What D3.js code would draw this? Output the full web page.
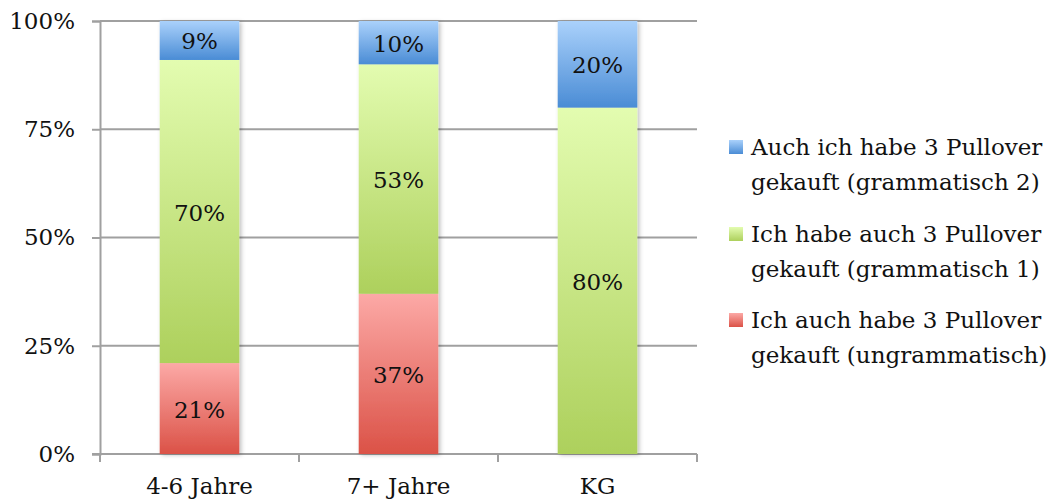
<!DOCTYPE html>
<html>
<head>
<meta charset="utf-8">
<script src="https://cdn.jsdelivr.net/npm/d3@7"></script>
<style>
  body { margin: 0; background: #fff; }
</style>
</head>
<body>
<div id="chart"></div>
<script>
const categories = ["4-6 Jahre", "7+ Jahre", "KG"];
const seriesNames = [
  ["Ich auch habe 3 Pullover", "gekauft (ungrammatisch)"],
  ["Ich habe auch 3 Pullover", "gekauft (grammatisch 1)"],
  ["Auch ich habe 3 Pullover", "gekauft (grammatisch 2)"]
];
const ungrammatisch = [21, 37, 0];
const grammatisch1 = [70, 53, 80];
const grammatisch2 = [9, 10, 20];
const yTicks = [0, 25, 50, 75, 100];

const FONT = "'DejaVu Serif', 'Liberation Serif', serif";
const FSIZE = "23px";

function init() {
  var w = 1047, h = 499;
  var left = 100, right = 697, top = 21, bottom = 454;

  var gradients = [
    ["#fca9a6", "#db5247"],
    ["#e3fcb0", "#add05c"],
    ["#aad1fb", "#4a8cd5"]
  ];

  var svg = d3.select("#chart").append("svg")
    .attr("width", w)
    .attr("height", h);

  var defs = svg.append("defs");
  gradients.forEach((g, i) => {
    var lg = defs.append("linearGradient")
      .attr("id", "grad" + i)
      .attr("x1", 0).attr("y1", 0).attr("x2", 0).attr("y2", 1);
    lg.append("stop").attr("offset", "0%").attr("stop-color", g[0]);
    lg.append("stop").attr("offset", "100%").attr("stop-color", g[1]);
  });
  var shadow = defs.append("filter").attr("id", "shadow")
    .attr("x", "-10%").attr("y", "-10%").attr("width", "130%").attr("height", "130%");
  shadow.append("feDropShadow")
    .attr("dx", 2).attr("dy", 1).attr("stdDeviation", 2)
    .attr("flood-color", "#000").attr("flood-opacity", 0.25);

  var x = d3.scaleBand().domain(categories).range([left, right]).paddingInner(0.6).paddingOuter(0.3);
  var y = d3.scaleLinear().domain([0, 100]).range([bottom, top]);

  // grid lines
  svg.append("g").selectAll("line").data(yTicks.filter(d => d > 0)).join("line")
    .attr("x1", left).attr("x2", right)
    .attr("y1", d => y(d)).attr("y2", d => y(d))
    .attr("stroke", "#a0a0a0").attr("stroke-width", 2);

  var yAxis = svg.append("g").attr("transform", `translate(${left},0)`)
    .call(d3.axisLeft(y).tickValues(yTicks).tickFormat(d => d + "%").tickSize(8).tickPadding(17));
  yAxis.attr("font-family", null).attr("font-size", null);
  yAxis.select(".domain").attr("stroke", "#a0a0a0").attr("stroke-width", 2);
  yAxis.selectAll(".tick line").attr("stroke", "#a0a0a0").attr("stroke-width", 2);
  yAxis.selectAll("text")
    .style("font-family", FONT).style("font-size", FSIZE).attr("fill", "#111");

  // bottom axis
  var xAxisG = svg.append("g").attr("transform", `translate(0,${bottom})`);
  xAxisG.append("line").attr("x1", left - 8).attr("x2", right)
    .attr("stroke", "#a0a0a0").attr("stroke-width", 2);
  var bounds = d3.range(categories.length + 1).map(i => left + (right - left) * i / categories.length);
  xAxisG.selectAll(".ctick").data(bounds).join("line")
    .attr("x1", d => d).attr("x2", d => d).attr("y1", 0).attr("y2", 8)
    .attr("stroke", "#a0a0a0").attr("stroke-width", 2);
  xAxisG.selectAll(".clabel").data(categories).join("text")
    .attr("x", d => x(d) + x.bandwidth() / 2)
    .attr("y", 40)
    .attr("text-anchor", "middle")
    .style("font-family", FONT)
    .style("font-size", FSIZE)
    .attr("fill", "#111")
    .text(d => d);

  var series = [ungrammatisch, grammatisch1, grammatisch2];
  var stacked = categories.map((c, i) => {
    var acc = 0;
    return series.map((s, k) => {
      var seg = { cat: c, k: k, y0: acc, y1: acc + s[i], v: s[i] };
      acc += s[i];
      return seg;
    });
  });

  var barG = svg.append("g");
  stacked.forEach(segs => {
    var g = barG.append("g").attr("filter", "url(#shadow)");
    g.selectAll("rect").data(segs.filter(s => s.v > 0)).join("rect")
      .attr("x", d => x(d.cat))
      .attr("width", x.bandwidth())
      .attr("y", d => y(d.y1))
      .attr("height", d => y(d.y0) - y(d.y1))
      .attr("fill", d => `url(#grad${d.k})`);
  });
  stacked.forEach(segs => {
    barG.append("g").selectAll("text").data(segs.filter(s => s.v > 0)).join("text")
      .attr("x", d => x(d.cat) + x.bandwidth() / 2)
      .attr("y", d => (y(d.y0) + y(d.y1)) / 2 + 9)
      .attr("text-anchor", "middle")
      .style("font-family", FONT)
      .style("font-size", FSIZE)
      .attr("fill", "#111")
      .text(d => d.v + "%");
  });

  // legend (top to bottom: grammatisch 2, grammatisch 1, ungrammatisch)
  var legendOrder = [2, 1, 0];
  var legendY = [155, 242, 328];
  var legend = svg.append("g");
  legendOrder.forEach((k, i) => {
    legend.append("rect")
      .attr("x", 729).attr("y", legendY[i] - 15)
      .attr("width", 14).attr("height", 14)
      .attr("fill", `url(#grad${k})`);
    seriesNames[k].forEach((line, j) => {
      legend.append("text")
        .attr("x", 751).attr("y", legendY[i] + j * 35)
        .style("font-family", FONT)
        .style("font-size", FSIZE)
        .attr("fill", "#111")
        .text(line);
    });
  });
}

window.onload = init;
</script>
</body>
</html>
